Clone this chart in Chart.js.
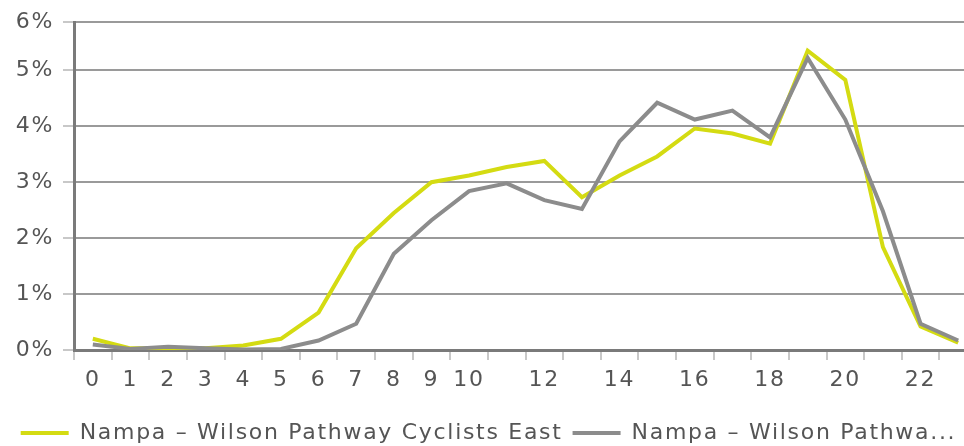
<!DOCTYPE html>
<html>
<head>
<meta charset="utf-8">
<script src="https://cdn.jsdelivr.net/npm/chart.js@4"></script>
<style>
  html, body { margin: 0; padding: 0; background: #fff; overflow: hidden; }
  #wrap { width: 964px; height: 446px; overflow: hidden; }
</style>
</head>
<body>
<div id="wrap"><canvas id="hour-chart" width="1000" height="446"></canvas></div>
<script>
// hourly share of daily trips, percent
const hours = ['0','1','2','3','4','5','6','7','8','9','10','11','12','13','14','15','16','17','18','19','20','21','22','23'];
const eastValues = [0.2, 0.03, 0.03, 0.03, 0.08, 0.2, 0.67, 1.82, 2.45, 3.0, 3.12, 3.27, 3.38, 2.73, 3.12, 3.46, 3.96, 3.87, 3.69, 5.35, 4.83, 1.84, 0.42, 0.13];
const westValues = [0.1, 0.02, 0.06, 0.03, 0.01, 0.02, 0.17, 0.47, 1.72, 2.32, 2.84, 2.98, 2.68, 2.52, 3.73, 4.42, 4.12, 4.28, 3.8, 5.22, 4.12, 2.48, 0.47, 0.17];
const seriesNames = ['Nampa \u2013 Wilson Pathway Cyclists East', 'Nampa \u2013 Wilson Pathwa...'];

const FONT = { family: "'DejaVu Sans', Verdana, sans-serif", size: 22 };

// the original text is a bit more spread out than DejaVu
const spacing = {
  id: 'spacing',
  beforeLayout(chart) { chart.ctx.letterSpacing = '1.7px'; },
  beforeDraw(chart) { chart.ctx.letterSpacing = '1.7px'; },
};

const hourChart = new Chart('hour-chart', {
  type: 'line',
  data: {
    labels: hours,
    datasets: [{
      label: seriesNames[0],
      data: eastValues,
      borderColor: '#d4db12',
      backgroundColor: '#d4db12',
      borderWidth: 4,
      pointRadius: 0,
      tension: 0,
      order: 1,
    }, {
      label: seriesNames[1],
      data: westValues,
      borderColor: '#8c8c8c',
      backgroundColor: '#8c8c8c',
      borderWidth: 4,
      pointRadius: 0,
      tension: 0,
      order: 0,
    }],
  },
  plugins: [spacing],
  options: {
    responsive: false,
    animation: false,
    layout: {
      padding: { left: 0, right: 23, top: 12, bottom: -8 },
    },
    scales: {
      x: {
        offset: true,
        border: { color: '#7a7a7a', width: 3 },
        grid: {
          offset: true,
          drawOnChartArea: false,
          color: '#c8c8c8',
          lineWidth: 2,
          tickLength: 10,
        },
        ticks: {
          autoSkip: false,
          maxRotation: 0,
          color: '#555',
          font: FONT,
          padding: 7,
          callback: function (value, index) {
            return (index <= 10 || index % 2 === 0) ? hours[index] : '';
          },
        },
        afterFit: (scale) => { scale.height = 62; },
      },
      y: {
        min: 0,
        max: 5.86,
        border: { color: '#7a7a7a', width: 3 },
        grid: {
          color: '#9a9a9a',
          lineWidth: 2,
          tickLength: 11,
          tickColor: '#c8c8c8',
        },
        ticks: {
          stepSize: 1,
          color: '#555',
          font: FONT,
          padding: 9,
          callback: (value) => Math.round(value) + '%',
        },
        afterFit: (scale) => { scale.width = 74; },
      },
    },
    plugins: {
      legend: {
        position: 'bottom',
        labels: {
          color: '#555',
          font: FONT,
          usePointStyle: true,
          pointStyle: 'line',
          pointStyleWidth: 48,
          boxHeight: 4,
          padding: 10,
          sort: (a, b) => a.datasetIndex - b.datasetIndex,
        },
      },
      tooltip: { enabled: false },
    },
  },
});
</script>
</body>
</html>
